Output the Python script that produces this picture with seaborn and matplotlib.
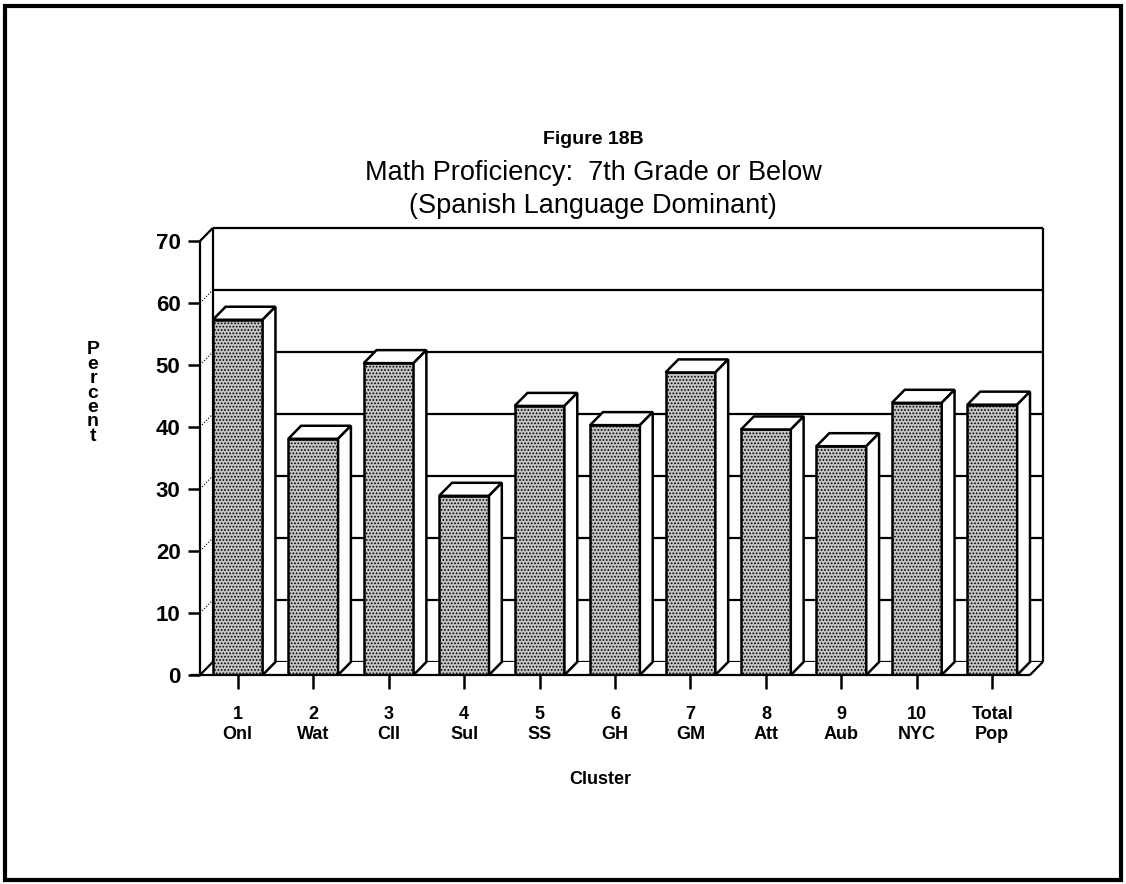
import matplotlib
matplotlib.use('Agg')
import matplotlib.pyplot as plt
import seaborn as sns
import pandas as pd
from matplotlib.patches import Polygon, Rectangle

# data
clusters = ['1\nOnl', '2\nWat', '3\nCll', '4\nSul', '5\nSS', '6\nGH',
            '7\nGM', '8\nAtt', '9\nAub', '10\nNYC', 'Total\nPop']
percent = [57.3, 38.1, 50.3, 28.9, 43.4, 40.3, 48.8, 39.6, 36.9, 43.9, 43.6]
y_ticks = [0, 10, 20, 30, 40, 50, 60, 70]

sns.set_style('white')
plt.rcParams['font.family'] = ['Liberation Sans', 'DejaVu Sans']
plt.rcParams['hatch.linewidth'] = 0.8
plt.rcParams['text.color'] = 'black'
plt.rcParams['xtick.color'] = 'black'
plt.rcParams['ytick.color'] = 'black'

W, H = 1126, 884
fig = plt.figure(figsize=(W / 100, H / 100), dpi=100)
ax = fig.add_axes([200 / W, 1 - 675 / H, 830 / W, 434 / H])

df = pd.DataFrame({'Cluster': clusters, 'Percent': percent})
sns.barplot(data=df, x='Cluster', y='Percent', ax=ax, width=0.66,
            color='#c4c4c4', saturation=1, edgecolor='black', linewidth=1.8,
            hatch='.....', zorder=3)

ax.set_xlim(-0.5, 10.5)
ax.set_ylim(0, 70)
for s in ax.spines.values():
    s.set_visible(False)

# depth of the pseudo 3D box (data units)
dx, dy = 0.17, 2.1
x0, x1 = -0.5, 10.5
lk = dict(color='black', lw=1.6, clip_on=False, solid_capstyle='butt')

# back wall + gridlines
for v in y_ticks:
    ax.plot([x0 + dx, x1 + dx], [v + dy, v + dy], zorder=1, **lk)
    ax.plot([x0, x0 + dx], [v, v + dy], color='black', lw=0.8, ls=':',
            clip_on=False, zorder=1)
ax.plot([x0 + dx, x0 + dx], [dy, 70 + dy], zorder=1, **lk)
ax.plot([x1 + dx, x1 + dx], [dy, 70 + dy], zorder=1, **lk)
ax.add_patch(Polygon([(x0, 0), (x1, 0), (x1 + dx, dy), (x0 + dx, dy)],
                     closed=True, fc='white', ec='none', zorder=2, clip_on=False))

# front frame
ax.plot([x0, x0], [0, 70], zorder=6, **lk)
ax.plot([x0, x0 + dx], [70, 70 + dy], zorder=6, **lk)
ax.plot([x0, x0 + dx], [0, dy], zorder=6, **lk)
ax.plot([x0 - 0.12, x1], [0, 0], zorder=6, **lk)
ax.plot([x1, x1 + dx], [0, dy], zorder=6, **lk)

# 3D tops and sides of the bars
for p in ax.patches:
    if not isinstance(p, Rectangle) or p.get_height() <= 0:
        continue
    bx, bw, bh = p.get_x(), p.get_width(), p.get_height()
    top = Polygon([(bx, bh), (bx + dx, bh + dy), (bx + bw + dx, bh + dy), (bx + bw, bh)],
                  closed=True, fc='white', ec='black', lw=1.8, zorder=4, clip_on=False)
    side = Polygon([(bx + bw, 0), (bx + bw, bh), (bx + bw + dx, bh + dy), (bx + bw + dx, dy)],
                   closed=True, fc='white', ec='black', lw=1.8, zorder=4, clip_on=False)
    ax.add_patch(top)
    ax.add_patch(side)

ax.set_yticks(y_ticks)
ax.set_yticklabels([str(v) for v in y_ticks], fontsize=16, fontweight='bold')
ax.tick_params(axis='y', left=True, length=9, width=1.8, pad=5)
ax.tick_params(axis='x', bottom=True, length=10, width=1.8, pad=12)
for lab in ax.get_xticklabels():
    lab.set_fontsize(13)
    lab.set_fontweight('bold')
    lab.set_linespacing(1.3)
ax.set_xlabel('')
ax.set_ylabel('')

fig.text(93 / W, 1 - 393 / H, '\n'.join('Percent'), ha='center', va='center',
         fontsize=14, fontweight='bold', linespacing=0.8)
fig.text(600 / W, 1 - 780 / H, 'Cluster', ha='center', va='center',
         fontsize=13, fontweight='bold')

fig.text(593 / W, 1 - 140 / H, 'Figure 18B', ha='center', va='center',
         fontsize=14, fontweight='bold')
fig.text(593 / W, 1 - 173 / H, 'Math Proficiency:  7th Grade or Below', ha='center',
         va='center', fontsize=19.5)
fig.text(593 / W, 1 - 206 / H, '(Spanish Language Dominant)', ha='center',
         va='center', fontsize=19.5)

# scanned page frame
fig.patches.append(Rectangle((5 / W, 4 / H), 1116 / W, 874 / H, transform=fig.transFigure,
                             fill=False, ec='black', lw=3))

fig.savefig('out.png', dpi=100)
